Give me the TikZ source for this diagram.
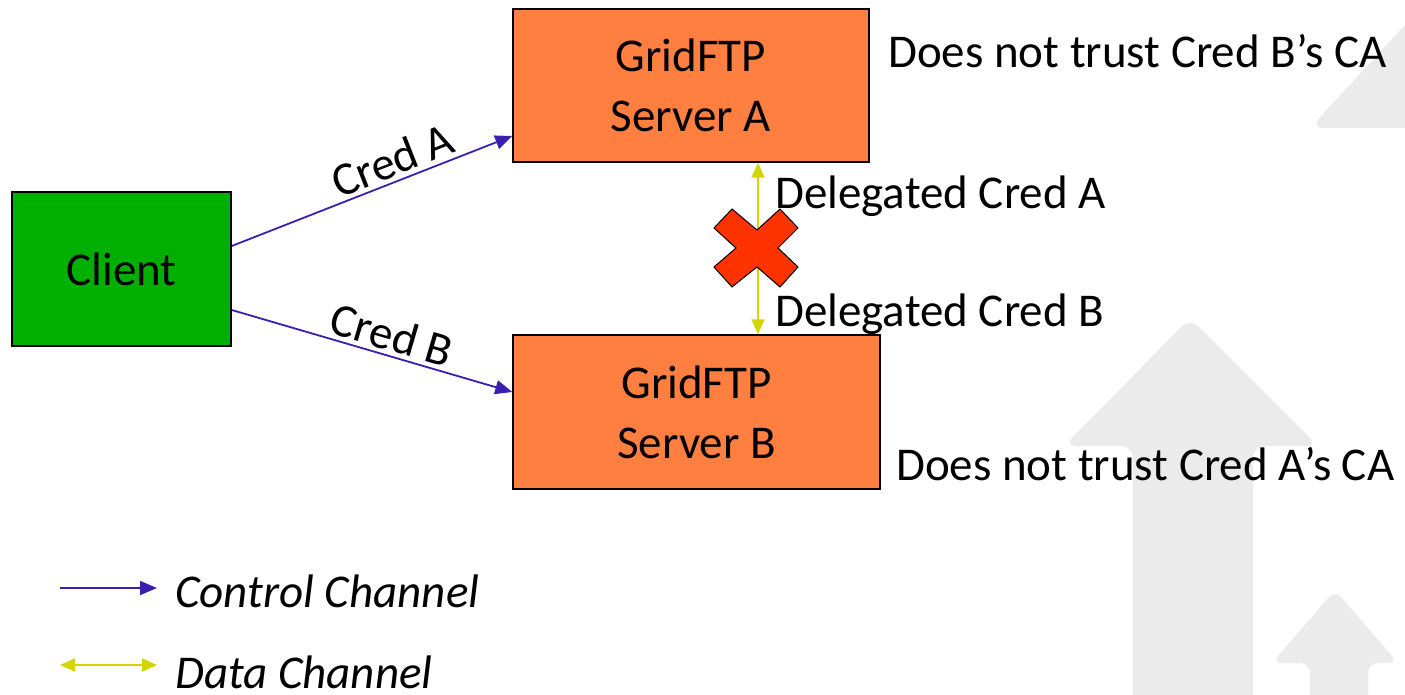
\documentclass[tikz,border=0pt]{standalone}
\usepackage{fontspec}
\setmainfont{Carlito}
\usetikzlibrary{arrows.meta}
\definecolor{clientgreen}{HTML}{00B000}
\definecolor{srvorange}{HTML}{FF7F40}
\definecolor{ctrlblue}{HTML}{3A1FB0}
\definecolor{datayellow}{HTML}{D4D400}
\definecolor{crossred}{HTML}{FF3300}
\definecolor{wmgray}{HTML}{EBEBEB}
\tikzset{
  box/.style={draw=black,line width=1.5pt,minimum width=#1,inner sep=0pt,align=center,font=\fontsize{47}{60}\selectfont},
  ctrl/.style={ctrlblue,line width=1.8pt,-{Triangle[length=17pt,width=14pt]}},
  data/.style={datayellow,line width=1.8pt,{Triangle[length=15pt,width=13pt]}-{Triangle[length=15pt,width=13pt]}},
  lbl/.style={text=black,font=\fontsize{47}{56}\selectfont,inner sep=0pt},
}
\begin{document}
\begin{tikzpicture}[x=1pt,y=-1pt]
\useasboundingbox (0,0) rectangle (1405,695);
\fill[wmgray,rounded corners=12pt] (1133,720) -- (1133,446) -- (1064,446) -- (1190,318) -- (1318,446) -- (1253,446) -- (1253,720) -- cycle;
\fill[wmgray,rounded corners=14pt] (1440,128) -- (1310,128) -- (1428,0) -- (1440,0) -- cycle;
\fill[wmgray,rounded corners=10pt] (1310,720) -- (1310,663) -- (1272,663) -- (1335,590) -- (1398,663) -- (1368,663) -- (1368,720) -- cycle;

\node[box=219pt,minimum height=154pt,fill=clientgreen] (client) at (121.5,269) {Client};
\node[box=356pt,minimum height=153pt,fill=srvorange] (srvA) at (691,85.5) {GridFTP\\Server A};
\node[box=367pt,minimum height=154pt,fill=srvorange] (srvB) at (696.5,412) {GridFTP\\Server B};

\draw[ctrl] ([yshift=23pt]client.east) -- node[lbl,pos=0.6,sloped,above=4pt] {Cred A} ([yshift=-50.5pt]srvA.west);
\draw[ctrl] ([yshift=-41pt]client.east) -- node[lbl,pos=0.55,sloped,above=4pt] {Cred B} ([yshift=20pt]srvB.west);

\coordinate (dx) at (758,0);
\draw[data] (srvA.south -| dx) -- (srvB.north -| dx);
\filldraw[fill=crossred,draw=black,line width=1pt] (732,209) -- (757,230) -- (780,209) -- (798,228) -- (778,248) -- (798,267) -- (780,287) -- (757,267) -- (732,287) -- (714,267) -- (736,248) -- (714,228) -- cycle;

\node[lbl,anchor=west] (delA) at (775,196) {Delegated Cred A};
\node[lbl,anchor=west] (delB) at (775,314) {Delegated Cred B};
\node[lbl,anchor=west] (trustA) at (888,51) {Does not trust Cred B’s CA};
\node[lbl,anchor=west] (trustB) at (896,464) {Does not trust Cred A’s CA};

\coordinate (c1) at (60,588);
\coordinate (c2) at (157,588);
\coordinate (d1) at (60,665);
\coordinate (d2) at (157,665);
\draw[ctrl] (c1) -- (c2);
\draw[data] (d1) -- (d2);
\node[lbl,anchor=west,font=\fontsize{47}{56}\selectfont\itshape] (leg1) at (175,591) {Control Channel};
\node[lbl,anchor=west,font=\fontsize{47}{56}\selectfont\itshape] (leg2) at (175,672) {Data Channel};
\end{tikzpicture}
\end{document}
